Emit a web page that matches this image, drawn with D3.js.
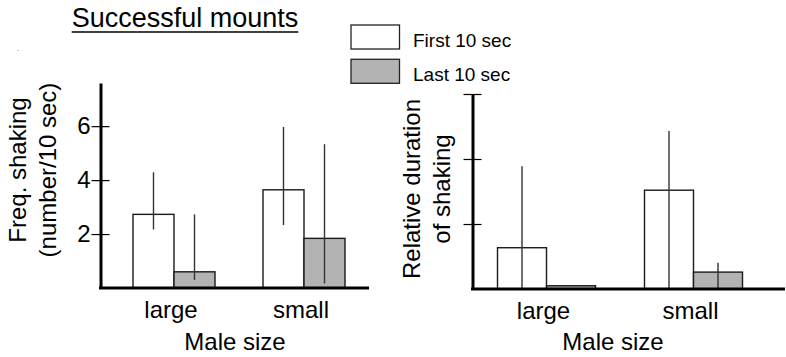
<!DOCTYPE html>
<html>
<head>
<meta charset="utf-8">
<script src="https://cdn.jsdelivr.net/npm/d3@7"></script>
<style>
  body { margin: 0; background: #fff; }
  svg { display: block; font-family: "Liberation Sans", Arial, sans-serif; }
</style>
</head>
<body>
<div id="chart"></div>
<script>
// values
var sizes = ["large", "small"];
var periods = ["First 10 sec", "Last 10 sec"];
var periodFill = ["#ffffff", "#b3b3b3"];

// frequency of shaking (number / 10 sec): [size][period]
var freqMean = [[2.73, 0.60], [3.64, 1.84]];
var freqLow  = [[2.17, 0.30], [2.33, 0.17]];
var freqHigh = [[4.29, 2.73], [5.97, 5.33]];
var freqTicks = [2, 4, 6];

// relative duration of shaking (no tick labels in the original)
var durMean = [[0.635, 0.05], [1.52, 0.26]];
var durLow  = [[0, 0.05], [0, 0]];
var durHigh = [[1.89, 0.05], [2.43, 0.405]];
var durTicks = [1, 2, 3];

var width = 786, height = 357;

var svg = d3.select("#chart").append("svg")
    .attr("width", width)
    .attr("height", height);

// title with underline
var title = svg.append("text")
    .attr("x", 185)
    .attr("y", 27)
    .attr("text-anchor", "middle")
    .style("font-size", "27px")
    .text("Successful mounts");
var tb = title.node().getBBox();
svg.append("line")
    .attr("x1", tb.x).attr("x2", tb.x + tb.width)
    .attr("y1", 32).attr("y2", 32)
    .attr("stroke", "#000")
    .attr("stroke-width", 1.5);

// stray dot in the original scan
svg.append("text")
    .attr("x", 17)
    .attr("y", 51)
    .style("font-size", "8px")
    .attr("fill", "#666")
    .text(".");

// legend
var legend = svg.append("g").attr("transform", "translate(351,25)");
periods.forEach(function (p, i) {
    var g = legend.append("g").attr("transform", "translate(0," + (i * 34.3) + ")");
    g.append("rect")
        .attr("width", 48.5)
        .attr("height", 24)
        .attr("fill", periodFill[i])
        .attr("stroke", "#222")
        .attr("stroke-width", 1.3);
    g.append("text")
        .attr("x", 62)
        .attr("y", 21.5)
        .style("font-size", "19px")
        .text(p);
});

function drawPanel(cfg) {
    var g = svg.append("g");

    var x = d3.scaleBand()
        .domain(sizes)
        .range([cfg.bandStart, cfg.bandEnd]);

    var xi = d3.scaleBand()
        .domain(periods)
        .range([-cfg.barW, cfg.barW]);

    var y = d3.scaleLinear()
        .domain([0, cfg.yMax])
        .range([cfg.base, cfg.top]);

    var rows = [];
    sizes.forEach(function (s, i) {
        periods.forEach(function (p, j) {
            rows.push({ size: s, period: p, j: j,
                mean: cfg.mean[i][j], lo: cfg.low[i][j], hi: cfg.high[i][j] });
        });
    });

    // bars
    g.selectAll(".bar")
        .data(rows)
        .enter().append("rect")
        .attr("class", "bar")
        .attr("x", function (d) { return x(d.size) + x.bandwidth() / 2 + xi(d.period); })
        .attr("y", function (d) { return y(d.mean); })
        .attr("width", xi.bandwidth())
        .attr("height", function (d) { return y(0) - y(d.mean); })
        .attr("fill", function (d) { return periodFill[d.j]; })
        .attr("stroke", "#1a1a1a")
        .attr("stroke-width", 1.4);

    // error bars
    g.selectAll(".err")
        .data(rows.filter(function (d) { return d.hi > d.mean || d.lo < d.mean; }))
        .enter().append("line")
        .attr("class", "err")
        .attr("x1", function (d) { return x(d.size) + x.bandwidth() / 2 + xi(d.period) + xi.bandwidth() / 2; })
        .attr("x2", function (d) { return x(d.size) + x.bandwidth() / 2 + xi(d.period) + xi.bandwidth() / 2; })
        .attr("y1", function (d) { return y(d.hi); })
        .attr("y2", function (d) { return y(d.lo); })
        .attr("stroke", "#333")
        .attr("stroke-width", 1.4);

    // y axis, ticks crossing the line
    var yAxis = d3.axisLeft(y)
        .tickValues(cfg.ticks)
        .tickSize(9)
        .tickSizeOuter(0)
        .tickPadding(1)
        .tickFormat(cfg.tickLabels ? d3.format("d") : "");

    var gy = g.append("g")
        .attr("transform", "translate(" + cfg.axisX + ",0)")
        .call(yAxis);
    gy.select(".domain").attr("stroke-width", 3);
    gy.selectAll(".tick line").attr("x1", 9).attr("stroke-width", 1.2);
    gy.selectAll(".tick text")
        .style("font-size", "24px")
        .attr("fill", "#000");

    // x axis
    var xAxis = d3.axisBottom(x).tickSize(0).tickPadding(0);
    var gx = g.append("g")
        .attr("transform", "translate(0," + cfg.base + ")")
        .call(xAxis);
    gx.select(".domain").remove();
    gx.selectAll(".tick text")
        .attr("dy", null)
        .attr("y", 30)
        .attr("dx", -3)
        .style("font-size", "24px")
        .attr("fill", "#000");
    g.append("line")
        .attr("x1", cfg.axisX - 1.5)
        .attr("x2", cfg.axisEnd)
        .attr("y1", cfg.base)
        .attr("y2", cfg.base)
        .attr("stroke", "#000")
        .attr("stroke-width", 3);

    g.append("text")
        .attr("x", cfg.xLabelX)
        .attr("y", 350)
        .attr("text-anchor", "middle")
        .style("font-size", "24px")
        .text("Male size");

    cfg.yLabel.forEach(function (line, k) {
        g.append("text")
            .attr("transform", "translate(" + cfg.yLabelX[k] + "," + cfg.yLabelY + ") rotate(-90)")
            .attr("text-anchor", "middle")
            .style("font-size", "24px")
            .text(line);
    });
}

drawPanel({
    mean: freqMean, low: freqLow, high: freqHigh, ticks: freqTicks, tickLabels: true,
    axisX: 100.5, axisEnd: 369, bandStart: 109, bandEnd: 369,
    top: 83, base: 288, yMax: 7.6, barW: 41,
    xLabelX: 235,
    yLabel: ["Freq. shaking", "(number/10 sec)"], yLabelX: [26, 56], yLabelY: 170
});

drawPanel({
    mean: durMean, low: durLow, high: durHigh, ticks: durTicks, tickLabels: false,
    axisX: 472.5, axisEnd: 785, bandStart: 473, bandEnd: 767,
    top: 94, base: 289, yMax: 3, barW: 49,
    xLabelX: 613,
    yLabel: ["Relative duration", "of shaking"], yLabelX: [420, 450], yLabelY: 189
});
</script>
</body>
</html>
